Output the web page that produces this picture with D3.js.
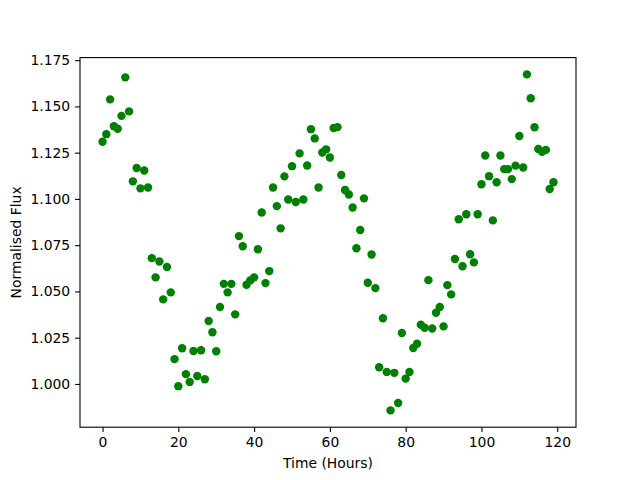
<!DOCTYPE html>
<html>
<head>
<meta charset="utf-8">
<script src="https://cdn.jsdelivr.net/npm/d3@7"></script>
<style>
  html, body { margin: 0; padding: 0; background: #ffffff; }
  svg { display: block; }
  text { font-family: "DejaVu Sans", sans-serif; }
</style>
</head>
<body>
<script>
// ---- Data ----
const hours = d3.range(0, 120);
const flux = [
  1.1309, 1.1350, 1.1538, 1.1393, 1.1379, 1.1449, 1.1657, 1.1473, 1.1095, 1.1167,
  1.1057, 1.1154, 1.1062, 1.0680, 1.0576, 1.0662, 1.0457, 1.0632, 1.0495, 1.0134,
  0.9988, 1.0193, 1.0053, 1.0011, 1.0178, 1.0043, 1.0182, 1.0025, 1.0340, 1.0279,
  1.0177, 1.0416, 1.0541, 1.0495, 1.0541, 1.0376, 1.0799, 1.0744, 1.0536, 1.0560,
  1.0576, 1.0728, 1.0927, 1.0545, 1.0610, 1.1062, 1.0961, 1.0841, 1.1122, 1.0997,
  1.1177, 1.0983, 1.1246, 1.0997, 1.1181, 1.1377, 1.1327, 1.1062, 1.1251, 1.1268,
  1.1224, 1.1383, 1.1388, 1.1129, 1.1048, 1.1024, 1.0954, 1.0733, 1.0832, 1.1003,
  1.0547, 1.0700, 1.0518, 1.0090, 1.0355, 1.0065, 0.9857, 1.0060, 0.9897, 1.0275,
  1.0029, 1.0065, 1.0194, 1.0217, 1.0320, 1.0304, 1.0561, 1.0300, 1.0385, 1.0416,
  1.0311, 1.0534, 1.0484, 1.0675, 1.0890, 1.0636, 1.0917, 1.0701, 1.0657, 1.0917,
  1.1079, 1.1235, 1.1123, 1.0884, 1.1090, 1.1235, 1.1161, 1.1161, 1.1107, 1.1180,
  1.1340, 1.1170, 1.1673, 1.1544, 1.1387, 1.1270, 1.1255, 1.1265, 1.1054, 1.1090
];
const xTicks = [0, 20, 40, 60, 80, 100, 120];
const yTicks = [1.000, 1.025, 1.050, 1.075, 1.100, 1.125, 1.150, 1.175];
const xLabel = "Time (Hours)";
const yLabel = "Normalised Flux";

// ---- Layout ----
const W = 640, H = 480;
const mLeft = 80, mRight = 576, mTop = 57.6, mBottom = 427.2;

const svg = d3.select("body").append("svg")
  .attr("width", W).attr("height", H);
svg.append("rect").attr("width", W).attr("height", H).attr("fill", "#ffffff");

function padded(ext) {
  const m = (ext[1] - ext[0]) * 0.05;
  return [ext[0] - m, ext[1] + m];
}

const x = d3.scaleLinear().domain(padded(d3.extent(hours))).range([mLeft, mRight]);
const y = d3.scaleLinear().domain(padded(d3.extent(flux))).range([mBottom, mTop]);

const fs = 13.9;

// Points
svg.append("g")
  .selectAll("circle")
  .data(hours.map((h, i) => [h, flux[i]]))
  .join("circle")
  .attr("cx", d => x(d[0]))
  .attr("cy", d => y(d[1]))
  .attr("r", 4.2)
  .attr("fill", "#008000");

// Axes
const xAxis = d3.axisBottom(x).tickValues(xTicks).tickFormat(d3.format("d"))
  .tickSize(4.9).tickPadding(4.9);
const yAxis = d3.axisLeft(y).tickValues(yTicks).tickFormat(d3.format(".3f"))
  .tickSize(4.9).tickPadding(4.9);

const gx = svg.append("g").attr("transform", `translate(0,${mBottom})`).call(xAxis);
const gy = svg.append("g").attr("transform", `translate(${mLeft},0)`).call(yAxis);
[gx, gy].forEach(g => {
  g.select(".domain").remove();
  g.selectAll(".tick line").attr("stroke", "#000").attr("stroke-width", 1.1);
  g.selectAll(".tick text").attr("fill", "#000")
    .style("font-family", "'DejaVu Sans', sans-serif").style("font-size", fs + "px");
});

// Spines
svg.append("rect")
  .attr("x", mLeft).attr("y", mTop)
  .attr("width", mRight - mLeft).attr("height", mBottom - mTop)
  .attr("fill", "none").attr("stroke", "#000").attr("stroke-width", 1.1);

// Axis labels
svg.append("text")
  .attr("x", (mLeft + mRight) / 2).attr("y", 468)
  .attr("text-anchor", "middle")
  .style("font-size", fs + "px")
  .text(xLabel);

svg.append("text")
  .attr("transform", `translate(21,${(mTop + mBottom) / 2}) rotate(-90)`)
  .attr("text-anchor", "middle")
  .style("font-size", fs + "px")
  .text(yLabel);
</script>
</body>
</html>
